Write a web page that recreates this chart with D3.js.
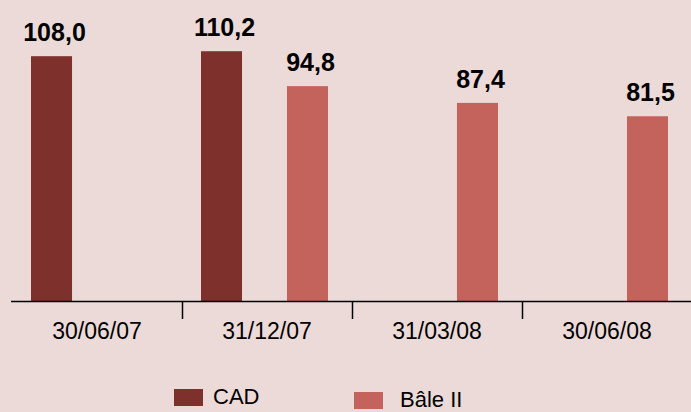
<!DOCTYPE html>
<html>
<head>
<meta charset="utf-8">
<script src="https://cdn.jsdelivr.net/npm/d3@7"></script>
<style>
  html, body { margin: 0; padding: 0; background: #EBDAD7; }
  svg { display: block; font-family: Arial, "Liberation Sans", sans-serif; }
</style>
</head>
<body>
<div id="chart"></div>
<script>
var dates = ['30/06/07', '31/12/07', '31/03/08', '30/06/08'];
var series = ['CAD', 'Bâle II'];
var cad = [108.0, 110.2, null, null];
var bale = [null, 94.8, 87.4, 81.5];

var chart_width = 691;
var chart_height = 412;
var colors = { 'CAD': '#7D302C', 'Bâle II': '#C3635B' };

var svg = d3.select('#chart')
  .append('svg')
  .attr('width', chart_width)
  .attr('height', chart_height);

// scales
var x_scale = d3.scaleBand()
  .domain(dates)
  .range([12, 692]);

var x_inner = d3.scaleBand()
  .domain(series)
  .range([19, 146])
  .paddingInner(0.523);

var y_scale = d3.scaleLinear()
  .domain([0, 120])
  .range([301, 29]);

var fmt = d3.formatLocale({ decimal: ',', thousands: ' ', grouping: [3], currency: ['', ' €'] }).format('.1f');

// rows built from the arrays
var rows = [];
dates.forEach(function(d, i) {
  if (cad[i] != null) rows.push({ date: d, s: 'CAD', v: cad[i] });
  if (bale[i] != null) rows.push({ date: d, s: 'Bâle II', v: bale[i] });
});

// bars
svg.selectAll('rect.bar')
  .data(rows)
  .enter()
  .append('rect')
  .attr('class', 'bar')
  .attr('x', (d) => x_scale(d.date) + x_inner(d.s))
  .attr('y', (d) => y_scale(d.v))
  .attr('width', x_inner.bandwidth())
  .attr('height', (d) => y_scale(0) - y_scale(d.v))
  .attr('fill', (d) => colors[d.s]);

// value labels
svg.selectAll('text.val')
  .data(rows)
  .enter()
  .append('text')
  .attr('class', 'val')
  .attr('x', (d) => x_scale(d.date) + x_inner(d.s) + x_inner.bandwidth() / 2 + 3)
  .attr('y', (d) => y_scale(d.v) - 15)
  .attr('text-anchor', 'middle')
  .attr('font-size', 25)
  .attr('font-weight', 'bold')
  .attr('fill', '#000')
  .text((d) => fmt(d.v));

// x axis
var x_axis = d3.axisBottom(x_scale).tickSize(0).tickPadding(0);
var gx = svg.append('g')
  .attr('transform', 'translate(0,' + y_scale(0) + ')')
  .call(x_axis);
gx.select('.domain').remove();
gx.selectAll('text')
  .attr('y', 38)
  .attr('dy', null)
  .attr('font-size', 23)
  .attr('font-family', 'Arial, "Liberation Sans", sans-serif')
  .attr('fill', '#000');

svg.append('line')
  .attr('x1', x_scale.range()[0] - 1)
  .attr('x2', chart_width)
  .attr('y1', y_scale(0) + 0.5)
  .attr('y2', y_scale(0) + 0.5)
  .attr('stroke', '#000')
  .attr('stroke-width', 1.5);

svg.selectAll('line.sep')
  .data(dates.slice(1))
  .enter()
  .append('line')
  .attr('class', 'sep')
  .attr('x1', (d) => x_scale(d) + 0.5)
  .attr('x2', (d) => x_scale(d) + 0.5)
  .attr('y1', y_scale(0))
  .attr('y2', y_scale(0) + 18)
  .attr('stroke', '#000')
  .attr('stroke-width', 1.5);

// legend
var legend = svg.selectAll('g.legend')
  .data(series)
  .enter()
  .append('g')
  .attr('class', 'legend')
  .attr('transform', (d, i) => 'translate(' + (174 + i * 180) + ',' + (389 + i * 3) + ')');

legend.append('rect')
  .attr('width', 29)
  .attr('height', 17)
  .attr('fill', (d) => colors[d]);

legend.append('text')
  .attr('y', 15)
  .attr('font-size', 22)
  .attr('fill', '#000')
  .attr('x', (d, i) => i == 0 ? 39 : 46)
  .text((d) => d);
</script>
</body>
</html>
